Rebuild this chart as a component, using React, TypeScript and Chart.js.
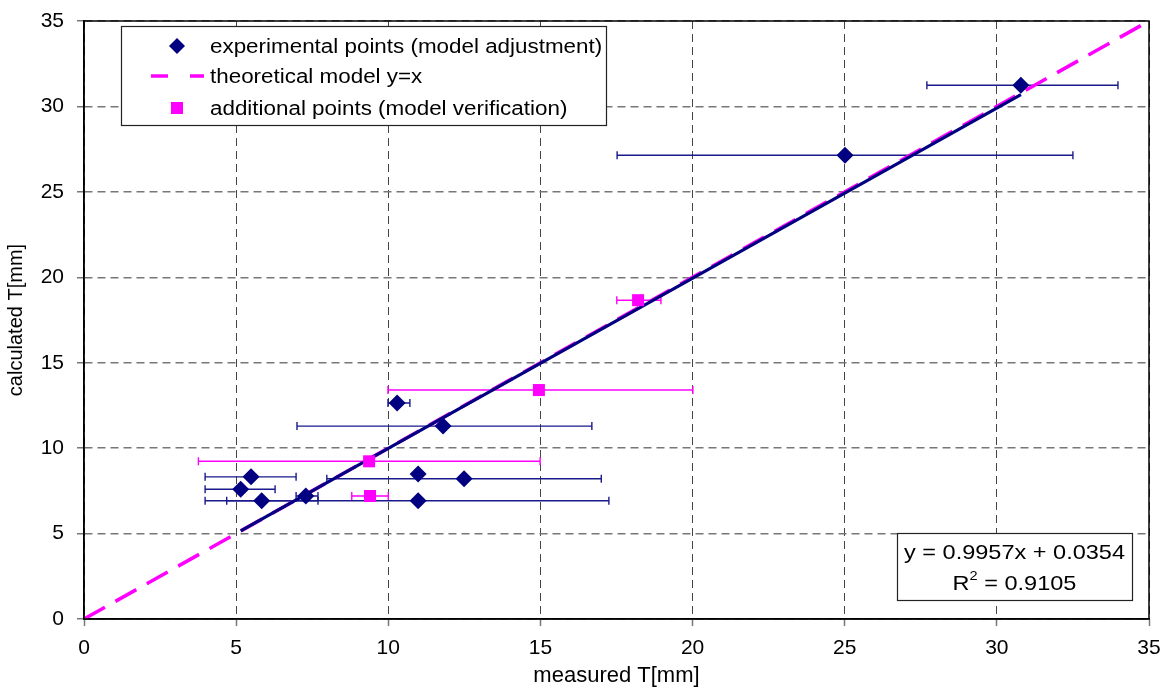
import React, { useEffect, useRef } from 'react';
import { Chart, registerables } from 'chart.js';

Chart.register(...registerables);

// experimental points (model adjustment)
const expX = [30.79, 25.01, 10.29, 11.8, 5.49, 5.15, 5.84, 7.29, 10.98, 12.49, 10.98];
const expY = [31.24, 27.14, 12.64, 11.29, 8.32, 7.59, 6.92, 7.2, 6.92, 8.21, 8.48];
const expXLow: (number | null)[] = [27.7, 17.52, 9.99, 7.0, 3.98, 3.98, 3.98, 6.97, 4.69, 7.98, null];
const expXHigh: (number | null)[] = [33.98, 32.5, 10.71, 16.69, 6.97, 6.28, 7.69, 7.69, 17.25, 17.0, null];

// additional points (model verification)
const addX = [18.21, 14.95, 9.37, 9.4];
const addY = [18.66, 13.4, 9.23, 7.2];
const addXLow = [17.51, 9.99, 3.76, 8.8];
const addXHigh = [18.96, 20.01, 14.99, 10.0];

// trend line y = 0.9957x + 0.0354 (end points)
const regX = [5.15, 30.79];
const regY = [5.16, 30.69];

// theoretical model y = x
const theoX = [0, 35];
const theoY = [0, 35];

const xTicks = [0, 5, 10, 15, 20, 25, 30, 35];
const yTicks = [0, 5, 10, 15, 20, 25, 30, 35];

const legendLabels = [
  'experimental points (model adjustment)',
  'theoretical model y=x',
  'additional points (model verification)',
];
const eqLine1 = 'y = 0.9957x + 0.0354';
const eqR2 = '0.9105';

const NAVY = '#000080';
const MAGENTA = '#FF00FF';
const FONT = '"Liberation Sans", Arial, sans-serif';
const STRETCH = 1.12;

const toPts = (xs: number[], ys: number[]) => xs.map((x, i) => ({ x, y: ys[i] }));

const stretchText = (ctx: any, text: string, x: number, y: number) => {
  ctx.save();
  ctx.translate(x, y);
  ctx.scale(STRETCH, 1);
  ctx.fillText(text, 0, 0);
  ctx.restore();
};

const errorBarPlugin = {
  id: 'errorBars',
  beforeDatasetsDraw(chart: any) {
    const { ctx, scales } = chart;
    const xs = scales.x;
    const ys = scales.y;
    const draw = (lo: (number | null)[], hi: (number | null)[], yv: number[], color: string) => {
      ctx.save();
      ctx.strokeStyle = color;
      ctx.lineWidth = 1.4;
      for (let i = 0; i < yv.length; i++) {
        const l = lo[i];
        const h = hi[i];
        if (l == null || h == null) continue;
        const x1 = xs.getPixelForValue(l);
        const x2 = xs.getPixelForValue(h);
        const y = ys.getPixelForValue(yv[i]);
        ctx.beginPath();
        ctx.moveTo(x1, y);
        ctx.lineTo(x2, y);
        ctx.moveTo(x1, y - 4);
        ctx.lineTo(x1, y + 4);
        ctx.moveTo(x2, y - 4);
        ctx.lineTo(x2, y + 4);
        ctx.stroke();
      }
      ctx.restore();
    };
    draw(expXLow, expXHigh, expY, '#1a1a8c');
    draw(addXLow, addXHigh, addY, MAGENTA);
  },
};

const framePlugin = {
  id: 'frame',
  afterDatasetsDraw(chart: any) {
    const { ctx, chartArea } = chart;
    ctx.save();
    ctx.strokeStyle = '#000';
    ctx.lineWidth = 1.5;
    ctx.strokeRect(chartArea.left, chartArea.top, chartArea.right - chartArea.left, chartArea.bottom - chartArea.top);
    ctx.restore();
  },
  afterDraw(chart: any) {
    const { ctx } = chart;
    ctx.save();
    // legend box
    const lx = 121, ly = 26, lw = 485, lh = 99;
    ctx.fillStyle = '#fff';
    ctx.fillRect(lx, ly, lw, lh);
    ctx.strokeStyle = '#222';
    ctx.lineWidth = 1.2;
    ctx.strokeRect(lx + 0.5, ly + 0.5, lw, lh);
    const rows = [46, 76, 108];
    ctx.font = `20px ${FONT}`;
    ctx.fillStyle = '#000';
    ctx.textBaseline = 'middle';
    ctx.textAlign = 'left';
    legendLabels.forEach((t, i) => stretchText(ctx, t, 210, rows[i] + 1));
    // diamond
    ctx.fillStyle = NAVY;
    ctx.beginPath();
    ctx.moveTo(177, rows[0] - 8);
    ctx.lineTo(185, rows[0]);
    ctx.lineTo(177, rows[0] + 8);
    ctx.lineTo(169, rows[0]);
    ctx.closePath();
    ctx.fill();
    // dashed line
    ctx.strokeStyle = MAGENTA;
    ctx.lineWidth = 3.5;
    ctx.beginPath();
    ctx.moveTo(151, rows[1]);
    ctx.lineTo(168, rows[1]);
    ctx.moveTo(190, rows[1]);
    ctx.lineTo(204, rows[1]);
    ctx.stroke();
    // square
    ctx.fillStyle = MAGENTA;
    ctx.fillRect(171, rows[2] - 6, 12, 12);

    // equation box
    const ex = 897, ey = 533, ew = 235, eh = 67;
    ctx.fillStyle = '#fff';
    ctx.fillRect(ex, ey, ew, eh);
    ctx.strokeStyle = '#222';
    ctx.lineWidth = 1.2;
    ctx.strokeRect(ex + 0.5, ey + 0.5, ew, eh);
    const cx = ex + ew / 2;
    ctx.fillStyle = '#000';
    ctx.font = `21px ${FONT}`;
    ctx.textAlign = 'left';
    const w1 = ctx.measureText(eqLine1).width * STRETCH;
    stretchText(ctx, eqLine1, cx - w1 / 2, 553);
    const partA = 'R';
    const partB = ' = ' + eqR2;
    const wA = ctx.measureText(partA).width * STRETCH;
    const wB = ctx.measureText(partB).width * STRETCH;
    ctx.font = `13px ${FONT}`;
    const w2 = ctx.measureText('2').width * STRETCH;
    const total = wA + w2 + wB;
    let sx = cx - total / 2;
    ctx.font = `21px ${FONT}`;
    stretchText(ctx, partA, sx, 584);
    sx += wA;
    ctx.font = `13px ${FONT}`;
    stretchText(ctx, '2', sx, 576);
    sx += w2;
    ctx.font = `21px ${FONT}`;
    stretchText(ctx, partB, sx, 584);
    ctx.restore();
  },
};

export default function App() {
  const ref = useRef<HTMLCanvasElement | null>(null);
  useEffect(() => {
    if (!ref.current) return;
    const chart = new Chart(ref.current, {
      type: 'scatter',
      data: {
        datasets: [
          {
            label: legendLabels[0],
            data: toPts(expX, expY),
            backgroundColor: NAVY,
            borderColor: NAVY,
            pointStyle: 'rectRot',
            pointRadius: 8.5,
            borderWidth: 0,
          },
          {
            label: legendLabels[2],
            data: toPts(addX, addY),
            backgroundColor: MAGENTA,
            borderColor: MAGENTA,
            pointStyle: 'rect',
            pointRadius: 8.5,
            borderWidth: 0,
          },
          {
            label: 'trend',
            data: toPts(regX, regY),
            showLine: true,
            borderColor: NAVY,
            borderWidth: 3.2,
            pointRadius: 0,
            fill: false,
          },
          {
            label: legendLabels[1],
            data: toPts(theoX, theoY),
            showLine: true,
            borderColor: MAGENTA,
            borderWidth: 3.5,
            borderDash: [24, 12],
            pointRadius: 0,
            fill: false,
          },
        ],
      },
      options: {
        animation: false,
        responsive: false,
        devicePixelRatio: 1,
        layout: { padding: { top: 21, right: 20, left: 0, bottom: 0 } },
        plugins: {
          legend: { display: false },
          tooltip: { enabled: false },
        },
        scales: {
          x: {
            type: 'linear',
            min: 0,
            max: 35,
            afterFit: (s: any) => {
              s.height = 70;
              s.paddingLeft = 0;
              s.paddingRight = 0;
            },
            afterBuildTicks: (s: any) => {
              s.ticks = xTicks.map((v) => ({ value: v }));
            },
            ticks: {
              color: '#000',
              font: { family: FONT, size: 21 },
              padding: 10,
              maxRotation: 0,
            },
            grid: {
              color: '#444',
              lineWidth: 1,
              tickLength: 7,
              tickColor: '#777',
              tickWidth: 1.5,
            },
            border: { display: true, color: '#000', width: 1.5, dash: [8, 5] },
            title: {
              display: true,
              text: 'measured T[mm]',
              color: '#000',
              font: { family: FONT, size: 22 },
              padding: { top: 0, bottom: 0 },
            },
          },
          y: {
            type: 'linear',
            min: 0,
            max: 35,
            afterFit: (s: any) => {
              s.width = 84;
              s.paddingTop = 0;
              s.paddingBottom = 0;
            },
            afterBuildTicks: (s: any) => {
              s.ticks = yTicks.map((v) => ({ value: v }));
            },
            ticks: {
              color: '#000',
              font: { family: FONT, size: 21 },
              padding: 13,
            },
            grid: {
              color: '#777',
              lineWidth: 1.5,
              tickLength: 7,
              tickColor: '#777',
              tickWidth: 1.5,
            },
            border: { display: true, color: '#000', width: 1.5, dash: [8, 5] },
            title: {
              display: true,
              text: 'calculated T[mm]',
              color: '#000',
              font: { family: FONT, size: 20 },
              padding: { top: 4, bottom: 0 },
            },
          },
        },
      },
      plugins: [errorBarPlugin, framePlugin],
    });
    return () => chart.destroy();
  }, []);
  return (
    <div style={{ position: 'fixed', left: 0, top: 0, width: 1169, height: 689, background: '#fff' }}>
      <canvas ref={ref} width={1169} height={689} style={{ width: 1169, height: 689 }} />
    </div>
  );
}
